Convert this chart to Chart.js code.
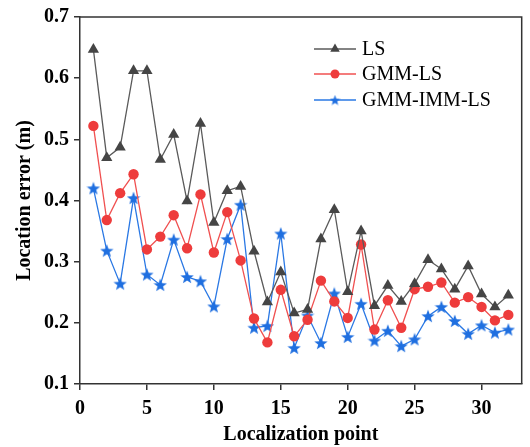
<!DOCTYPE html>
<html>
<head>
<meta charset="utf-8">
<script src="https://cdn.jsdelivr.net/npm/chart.js@4/dist/chart.umd.min.js"></script>
<style>
  html, body { margin: 0; padding: 0; background: #fff; }
  #wrap { width: 530px; height: 447px; }
</style>
</head>
<body>
<div id="wrap"><canvas id="c" width="530" height="447"></canvas></div>
<script>
// Localization point indices
const points = [1,2,3,4,5,6,7,8,9,10,11,12,13,14,15,16,17,18,19,20,21,22,23,24,25,26,27,28,29,30,31,32];

// Location error (m) for each method
const lsErr = [0.647,0.470,0.487,0.612,0.612,0.467,0.508,0.399,0.526,0.364,0.416,0.423,0.317,0.234,0.283,0.216,
               0.222,0.337,0.385,0.251,0.350,0.228,0.261,0.235,0.264,0.303,0.288,0.255,0.293,0.247,0.226,0.245];
const gmmLsErr = [0.522,0.368,0.412,0.443,0.320,0.341,0.376,0.322,0.410,0.315,0.381,0.302,0.207,0.168,0.254,0.178,
                  0.205,0.269,0.235,0.208,0.328,0.189,0.237,0.192,0.255,0.259,0.266,0.233,0.242,0.226,0.204,0.213];
const gmmImmLsErr = [0.420,0.318,0.264,0.404,0.279,0.262,0.336,0.275,0.268,0.227,0.337,0.393,0.192,0.195,0.346,0.159,
                     0.212,0.167,0.248,0.177,0.231,0.171,0.187,0.162,0.173,0.211,0.226,0.203,0.182,0.196,0.184,0.189];

const seriesNames = ['LS', 'GMM-LS', 'GMM-IMM-LS'];
const xTicks = [0, 5, 10, 15, 20, 25, 30];
const yTicks = [0.1, 0.2, 0.3, 0.4, 0.5, 0.6, 0.7];

const FONT = '"Liberation Serif", "Times New Roman", serif';

// Filled five-point star used as the marker of the third series
function makeStar(size, color) {
  const cv = document.createElement('canvas');
  cv.width = size; cv.height = size;
  const g = cv.getContext('2d');
  const cx = size / 2, cy = size / 2 + 0.6;
  const R = size / 2, r = R * 0.42;
  g.beginPath();
  for (let i = 0; i < 10; i++) {
    const a = -Math.PI / 2 + i * Math.PI / 5;
    const rr = (i % 2 === 0) ? R : r;
    const px = cx + rr * Math.cos(a), py = cy + rr * Math.sin(a);
    if (i === 0) g.moveTo(px, py); else g.lineTo(px, py);
  }
  g.closePath();
  g.fillStyle = color;
  g.fill();
  return cv;
}
const starImg = makeStar(14, '#1f6fe0');
const starSmall = makeStar(11, '#1f6fe0');

const toXY = arr => points.map((p, i) => ({ x: p, y: arr[i] }));

// Frame on the top and right sides plus the in-plot legend
const framePlugin = {
  id: 'frameAndLegend',
  afterDatasetsDraw(chart) {
    const { ctx, chartArea: a } = chart;
    ctx.save();
    ctx.strokeStyle = '#333';
    ctx.lineWidth = 1.5;
    ctx.beginPath();
    ctx.moveTo(a.left, a.top);
    ctx.lineTo(a.right, a.top);
    ctx.lineTo(a.right, a.bottom);
    ctx.stroke();

    // legend entries
    const x0 = a.left + 234, x1 = a.left + 276, tx = a.left + 282;
    const rows = [a.top + 32, a.top + 57, a.top + 83];
    ctx.font = '20px ' + FONT;
    ctx.textBaseline = 'middle';
    chart.data.datasets.forEach((ds, i) => {
      const y = rows[i];
      ctx.strokeStyle = ds.borderColor;
      ctx.lineWidth = 1.3;
      ctx.beginPath();
      ctx.moveTo(x0, y); ctx.lineTo(x1, y);
      ctx.stroke();
      const mx = (x0 + x1) / 2;
      ctx.fillStyle = ds.pointBackgroundColor;
      if (i === 0) {
        const r = 5.5;
        ctx.beginPath();
        ctx.moveTo(mx, y - r);
        ctx.lineTo(mx + r * 0.866, y + r * 0.5);
        ctx.lineTo(mx - r * 0.866, y + r * 0.5);
        ctx.closePath();
        ctx.fill();
      } else if (i === 1) {
        ctx.beginPath();
        ctx.arc(mx, y, 4.5, 0, Math.PI * 2);
        ctx.fill();
      } else {
        ctx.drawImage(starSmall, mx - 5.5, y - 5.5);
      }
      ctx.fillStyle = '#000';
      ctx.fillText(ds.label, tx, y + 1);
    });
    ctx.restore();
  }
};

new Chart(document.getElementById('c'), {
  type: 'line',
  data: {
    datasets: [
      {
        label: seriesNames[0],
        data: toXY(lsErr),
        borderColor: '#5a5a5a',
        backgroundColor: '#454545',
        pointBackgroundColor: '#454545',
        pointBorderColor: '#454545',
        pointStyle: 'triangle',
        pointRadius: 6.5,
        pointBorderWidth: 0,
        borderWidth: 1.3,
        tension: 0
      },
      {
        label: seriesNames[1],
        data: toXY(gmmLsErr),
        borderColor: '#f05050',
        backgroundColor: '#ee3c3c',
        pointBackgroundColor: '#ee3c3c',
        pointBorderColor: '#ee3c3c',
        pointStyle: 'circle',
        pointRadius: 5.2,
        pointBorderWidth: 0,
        borderWidth: 1.3,
        tension: 0
      },
      {
        label: seriesNames[2],
        data: toXY(gmmImmLsErr),
        borderColor: '#2a78e4',
        backgroundColor: '#1f6fe0',
        pointBackgroundColor: '#1f6fe0',
        pointBorderColor: '#1f6fe0',
        pointStyle: starImg,
        pointRadius: 7,
        borderWidth: 1.3,
        tension: 0
      }
    ]
  },
  options: {
    responsive: false,
    animation: false,
    layout: { padding: { top: 16, right: 2, left: 0, bottom: 0 } },
    plugins: {
      legend: { display: false },
      tooltip: { enabled: false }
    },
    scales: {
      x: {
        type: 'linear',
        min: 0,
        max: 33,
        afterBuildTicks: s => { s.ticks = xTicks.map(v => ({ value: v })); },
        afterFit: s => { s.height = 63; },
        border: { display: true, color: '#333', width: 1.5 },
        grid: { drawOnChartArea: false, drawTicks: true, tickLength: 6, color: '#333', lineWidth: 1.5 },
        ticks: {
          color: '#000',
          padding: 7,
          maxRotation: 0,
          font: { family: FONT, size: 20, weight: 'bold' }
        },
        title: {
          display: true,
          text: 'Localization point',
          color: '#000',
          padding: { top: 0, bottom: 0 },
          font: { family: FONT, size: 20, weight: 'bold' }
        }
      },
      y: {
        min: 0.1,
        max: 0.7,
        afterBuildTicks: s => { s.ticks = yTicks.map(v => ({ value: v })); },
        afterFit: s => { s.width = 80; },
        border: { display: true, color: '#333', width: 1.5 },
        grid: { drawOnChartArea: false, drawTicks: true, tickLength: 6, color: '#333', lineWidth: 1.5 },
        ticks: {
          color: '#000',
          padding: 5,
          callback: v => v.toFixed(1),
          font: { family: FONT, size: 20, weight: 'bold' }
        },
        title: {
          display: true,
          text: 'Location error (m)',
          color: '#000',
          padding: { top: 13, bottom: 0 },
          font: { family: FONT, size: 20, weight: 'bold' }
        }
      }
    }
  },
  plugins: [framePlugin]
});
</script>
</body>
</html>
